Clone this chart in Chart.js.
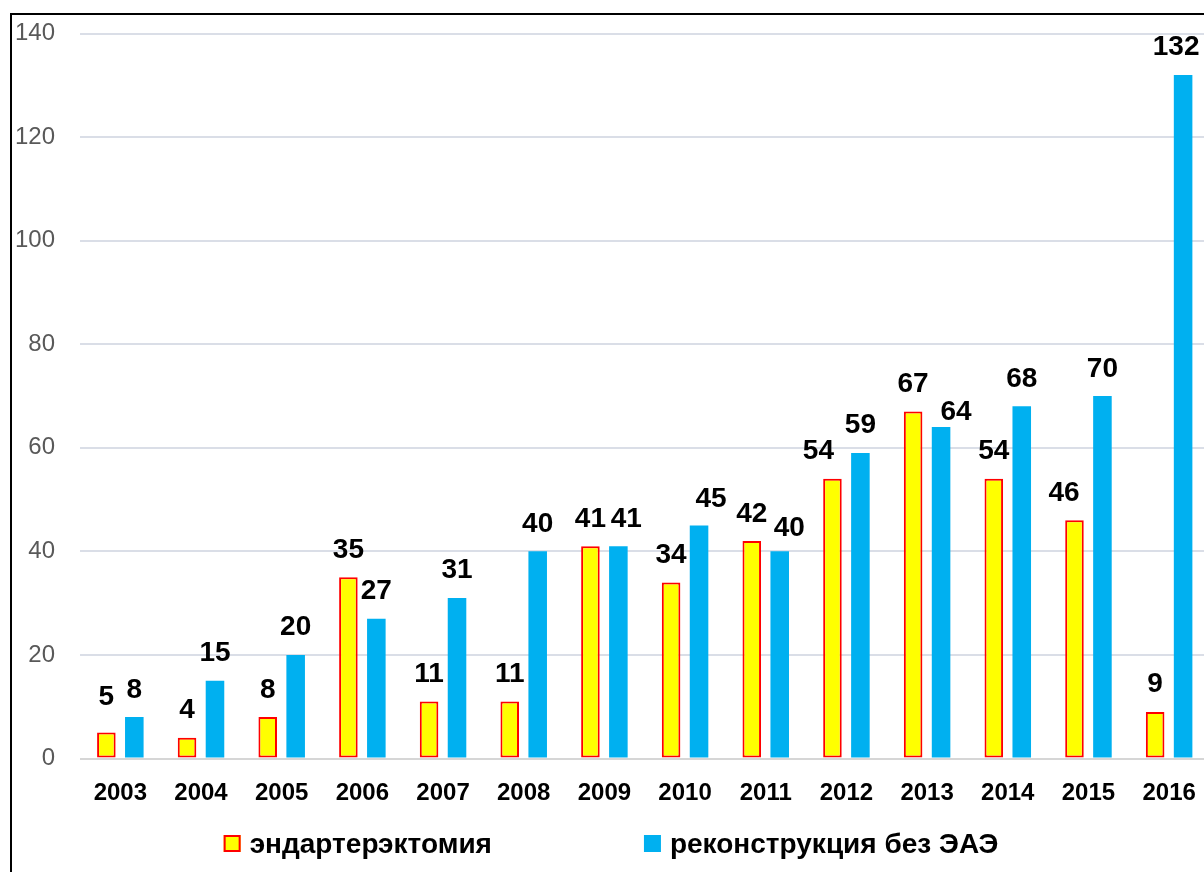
<!DOCTYPE html>
<html lang="ru">
<head>
<meta charset="utf-8">
<title>Эндартерэктомия и реконструкция без ЭАЭ, 2003–2016</title>
<script src="https://cdn.jsdelivr.net/npm/chart.js@4/dist/chart.umd.min.js"></script>
<style>
  html, body { margin: 0; padding: 0; background: #ffffff; overflow: hidden; }
  #stage { position: relative; width: 1204px; height: 872px; overflow: hidden; }
  #frame {
    position: absolute; left: 10px; top: 13px;
    width: 1400px; height: 1000px;
    border-top: 2px solid #000; border-left: 2px solid #000;
    box-sizing: border-box;
  }
  #chart { position: absolute; left: 0; top: 0; }
</style>
</head>
<body>
<div id="stage">
  <div id="frame"></div>
  <canvas id="chart" width="1216" height="872"></canvas>
</div>
<script>
// Years on the category axis
const years = ['2003', '2004', '2005', '2006', '2007', '2008', '2009',
               '2010', '2011', '2012', '2013', '2014', '2015', '2016'];

// Operations per year
const endarterectomy = [5, 4, 8, 35, 11, 11, 41, 34, 42, 54, 67, 54, 46, 9];
const reconstruction = [8, 15, 20, 27, 31, 40, 41, 45, 40, 59, 64, 68, 70, 132];

// Series names
const seriesNames = ['эндартерэктомия', 'реконструкция без ЭАЭ'];

// Value axis range
const yMin = 0, yMax = 140, yStep = 20;

const FONT = "'Liberation Sans', Arial, sans-serif";

// Hand-placed value labels: [dataset][bar index] -> pixel shift from the default spot
const labelShift = {
  0: { 0: { dy: -8 }, 9: { dx: -14 }, 12: { dx: -10.5 } },
  1: { 6: { dx: 8 }, 7: { dx: 12, dy: 1 }, 8: { dx: 9.5, dy: 4.5 },
       10: { dx: 15, dy: 12 }, 13: { dx: -7 } }
};

// Value labels above each bar
const barValueLabels = {
  id: 'barValueLabels',
  afterDatasetsDraw(chart) {
    const ctx = chart.ctx;
    ctx.save();
    ctx.font = `bold 28px ${FONT}`;
    ctx.fillStyle = '#000000';
    ctx.textAlign = 'center';
    ctx.textBaseline = 'alphabetic';
    chart.data.datasets.forEach((ds, di) => {
      const meta = chart.getDatasetMeta(di);
      meta.data.forEach((bar, i) => {
        const s = (labelShift[di] && labelShift[di][i]) || {};
        ctx.fillText(String(ds.data[i]), bar.x + (s.dx || 0), bar.y - 19.5 + (s.dy || 0));
      });
    });
    ctx.restore();
  }
};

// Legend row under the axis
const legendRow = {
  id: 'legendRow',
  afterDraw(chart) {
    const ctx = chart.ctx;
    const o = chart.options.plugins.legendRow;
    ctx.save();
    ctx.font = `bold ${o.fontSize}px ${FONT}`;
    const items = chart.data.datasets.map(ds => ({
      text: ds.label,
      fill: ds.backgroundColor,
      stroke: ds.borderWidth ? ds.borderColor : null,
      w: o.box + o.boxGap + ctx.measureText(ds.label).width
    }));
    const total = items.reduce((s, it) => s + it.w, 0) + o.itemGap * (items.length - 1);
    let x = o.centerX - total / 2;
    items.forEach(it => {
      const by = o.baseline - 1 - o.box;
      ctx.fillStyle = it.fill;
      ctx.fillRect(x, by, o.box, o.box);
      if (it.stroke) {
        ctx.strokeStyle = it.stroke;
        ctx.lineWidth = 2;
        ctx.strokeRect(x + 1, by + 1, o.box - 2, o.box - 2);
      }
      ctx.fillStyle = '#000000';
      ctx.textAlign = 'left';
      ctx.textBaseline = 'alphabetic';
      ctx.fillText(it.text, x + o.box + o.boxGap, o.baseline);
      x += it.w + o.itemGap;
    });
    ctx.restore();
  }
};

new Chart(document.getElementById('chart'), {
  type: 'bar',
  data: {
    labels: years,
    datasets: [
      {
        label: seriesNames[0],
        data: endarterectomy,
        backgroundColor: '#ffff00',
        borderColor: '#ff0000',
        borderWidth: 2,
        borderSkipped: false
      },
      {
        label: seriesNames[1],
        data: reconstruction,
        backgroundColor: '#00b0f0',
        borderWidth: 0
      }
    ]
  },
  options: {
    responsive: false,
    devicePixelRatio: 1,
    animation: false,
    events: [],
    categoryPercentage: 0.693,
    barPercentage: 0.664,
    layout: { padding: { left: 0, right: 5, top: 33.5, bottom: 53.5 } },
    scales: {
      x: {
        grid: { display: false, drawTicks: false },
        border: { display: false },
        ticks: {
          color: '#000000',
          font: { family: FONT, size: 24, weight: 'bold' },
          padding: 20,
          maxRotation: 0,
          autoSkip: false
        },
        afterFit(scale) { scale.height = 60; }
      },
      y: {
        min: yMin,
        max: yMax,
        grid: {
          drawTicks: false,
          lineWidth: 2,
          color: (c) => (c.tick && c.tick.value === 0) ? '#d6d6d6' : '#dadee7'
        },
        border: { display: false },
        ticks: {
          stepSize: yStep,
          color: '#595959',
          font: { family: FONT, size: 24 },
          padding: 25
        },
        afterFit(scale) {
          scale.width = 80;
          scale.paddingTop = 0;
          scale.paddingBottom = 0;
        }
      }
    },
    plugins: {
      legend: { display: false },
      tooltip: { enabled: false },
      legendRow: { centerX: 611, baseline: 853, fontSize: 28, box: 17, boxGap: 9, itemGap: 152 }
    }
  },
  plugins: [barValueLabels, legendRow]
});
</script>
</body>
</html>
